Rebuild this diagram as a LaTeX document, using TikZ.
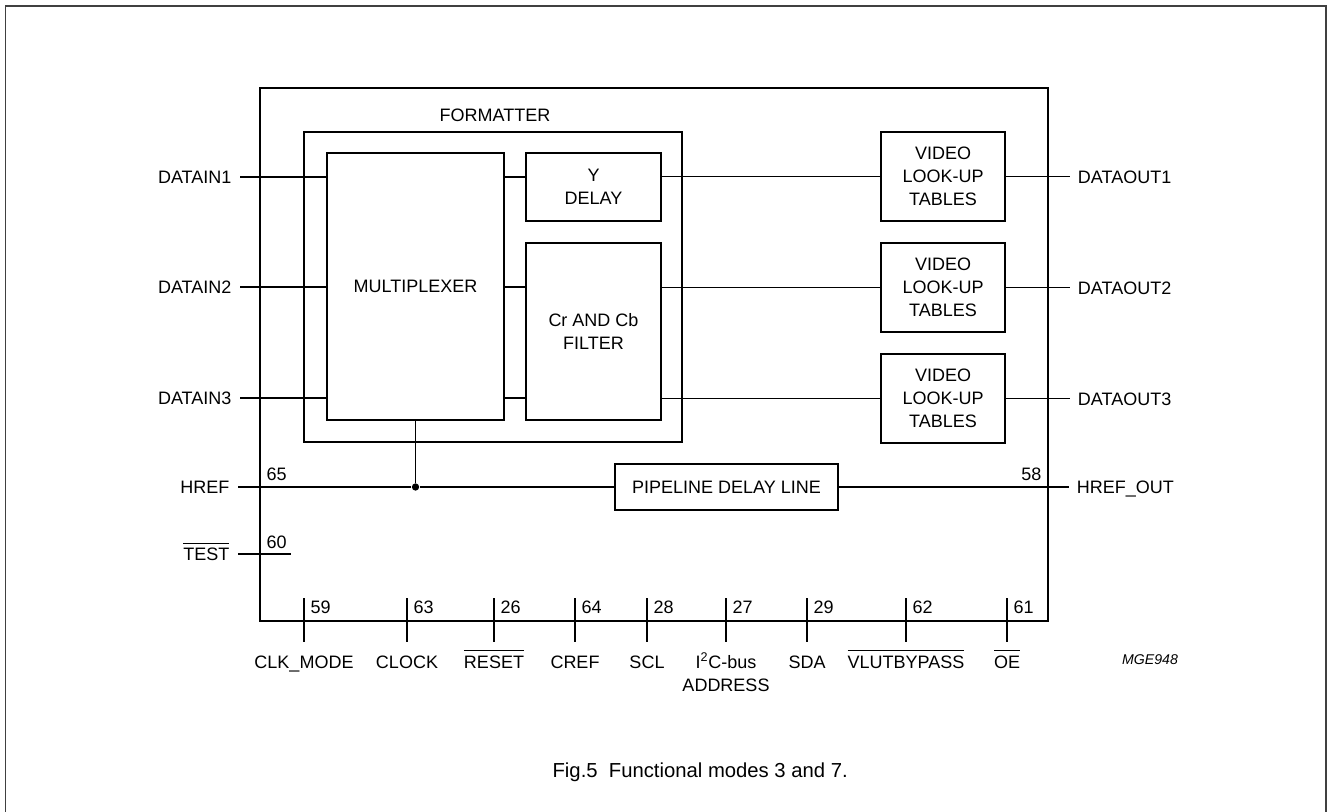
\documentclass[tikz,border=0pt]{standalone}
\usepackage{fontspec}
\setmainfont{Liberation Sans}
\newcommand{\ovl}[1]{\leavevmode\vbox{\hrule height 0.8pt\kern 3pt\hbox{#1}}}

\begin{document}
\begin{tikzpicture}[x=0.75pt, y=-0.75pt, font=\fontsize{13.5}{17.3}\selectfont, line width=0.9pt]
\tikzset{bsize/.style 2 args={minimum width=#1*0.75pt, minimum height=#2*0.75pt}}
\tikzstyle{mybox} = [draw, line width=2pt, inner sep=0pt, align=center]
\tikzstyle{mydot} = [circle, minimum size=5.5pt, fill, inner sep=0pt]
\tikzstyle{myin} = [anchor=base east, inner sep=0pt, xshift=-6pt, yshift=-5.25pt]
\tikzstyle{myout} = [anchor=base west, inner sep=0pt, xshift=5.5pt, yshift=-5.25pt]
\tikzstyle{mynum} = [anchor=base west, inner sep=0pt, xshift=4.5pt, yshift=-11.25pt]
\tikzstyle{mypin} = [anchor=base, inner sep=0pt, yshift=-19.5pt, align=center]
\useasboundingbox (0,0) rectangle (1328,812);
% page frame, open at the bottom
\draw[black!75, line width=1.1pt] (5.5,812) -- (5.5,6) -- (1326,6) -- (1326,812);

% blocks
\node[mybox, bsize={788}{533}] (chip) at (654,354.5) {};
\node[mybox, bsize={378}{310}] (formatter) at (493,287) {};
\node[anchor=base, inner sep=0pt] (formatterlab) at (495,122) {FORMATTER};
\node[mybox, bsize={177}{267}] (mux) at (415.5,286.5) {MULTIPLEXER};
\node[mybox, bsize={135}{68}] (ydelay) at (593.5,187) {Y\\DELAY};
\node[mybox, bsize={135}{177}] (filter) at (593.5,331.5) {Cr AND Cb\\FILTER};
\node[mybox, bsize={124}{89}] (lut1) at (943,176.5) {VIDEO\\LOOK-UP\\TABLES};
\node[mybox, bsize={124}{89}] (lut2) at (943,287.5) {VIDEO\\LOOK-UP\\TABLES};
\node[mybox, bsize={124}{89}] (lut3) at (943,398.5) {VIDEO\\LOOK-UP\\TABLES};
\node[mybox, bsize={223}{46}] (pipe) at (726.5,487) {PIPELINE DELAY LINE};

% data path
\coordinate (din1) at (240,177);
\coordinate (din2) at (240,287);
\coordinate (din3) at (240,398);
\coordinate (dout1) at (1070,176.5);
\coordinate (dout2) at (1070,287.5);
\coordinate (dout3) at (1070,398.5);
\draw (din1) node[myin] (datain1) {DATAIN1} -- (din1 -| mux.west);
\draw (din2) node[myin] (datain2) {DATAIN2} -- (din2 -| mux.west);
\draw (din3) node[myin] (datain3) {DATAIN3} -- (din3 -| mux.west);
\draw (mux.east |- din1) -- (ydelay.west |- din1);
\draw (mux.east |- din2) -- (filter.west |- din2);
\draw (mux.east |- din3) -- (filter.west |- din3);
\draw (ydelay.east |- lut1.west) -- (lut1.west);
\draw (filter.east |- lut2.west) -- (lut2.west);
\draw (filter.east |- lut3.west) -- (lut3.west);
\draw (lut1.east) -- (dout1) node[myout] (dataout1) {DATAOUT1};
\draw (lut2.east) -- (dout2) node[myout] (dataout2) {DATAOUT2};
\draw (lut3.east) -- (dout3) node[myout] (dataout3) {DATAOUT3};

% href path
\coordinate (href) at (238,487);
\coordinate (hrefout) at (1069,487);
\node[mydot] (tap) at (mux.south |- href) {};
\draw (mux.south) -- (tap);
\draw (href) node[myin] (hreflab) {HREF} -- (tap) -- (pipe.west);
\draw (pipe.east) -- (hrefout) node[myout] (hrefoutlab) {HREF\_OUT};
\node[anchor=base west, inner sep=0pt] (n65) at (266,481) {65};
\node[anchor=base east, inner sep=0pt] (n58) at (1042,481) {58};
\coordinate (test) at (238,554);
\coordinate (testend) at (291,554);
\draw (test) node[myin] (testlab) {\ovl{TEST}} -- (testend);
\node[anchor=base west, inner sep=0pt] (n60) at (266,548) {60};

% bottom pins
\coordinate (p59) at (304,598);
\coordinate (p63) at (407,598);
\coordinate (p26) at (494,598);
\coordinate (p64) at (575,598);
\coordinate (p28) at (647,598);
\coordinate (p27) at (726,598);
\coordinate (p29) at (807,598);
\coordinate (p62) at (906,598);
\coordinate (p61) at (1007,598);
\draw (p59) node[mynum] (n59) {59} -- ++(0,44) node[mypin] (clkmode) {CLK\_MODE};
\draw (p63) node[mynum] (n63) {63} -- ++(0,44) node[mypin] (clock) {CLOCK};
\draw (p26) node[mynum] (n26) {26} -- ++(0,44) node[mypin] (reset) {\ovl{RESET}};
\draw (p64) node[mynum] (n64) {64} -- ++(0,44) node[mypin] (cref) {CREF};
\draw (p28) node[mynum] (n28) {28} -- ++(0,44) node[mypin] (scl) {SCL};
\draw (p27) node[mynum] (n27) {27} -- ++(0,44) node[mypin, yshift=-17.3pt] (i2c) {I\textsuperscript{2}C-bus\\ADDRESS};
\draw (p29) node[mynum] (n29) {29} -- ++(0,44) node[mypin] (sda) {SDA};
\draw (p62) node[mynum] (n62) {62} -- ++(0,44) node[mypin] (vlut) {\ovl{VLUTBYPASS}};
\draw (p61) node[mynum] (n61) {61} -- ++(0,44) node[mypin] (oe) {\ovl{OE}};

\node[anchor=base, inner sep=0pt, font=\fontsize{10.6}{12}\selectfont\itshape] (code) at (1150,664) {MGE948};
\node[anchor=base west, inner sep=0pt, font=\fontsize{15.2}{18}\selectfont] (caption) at (552,777) {Fig.5\hspace{0.556em}Functional modes 3 and 7.};
\end{tikzpicture}
\end{document}
